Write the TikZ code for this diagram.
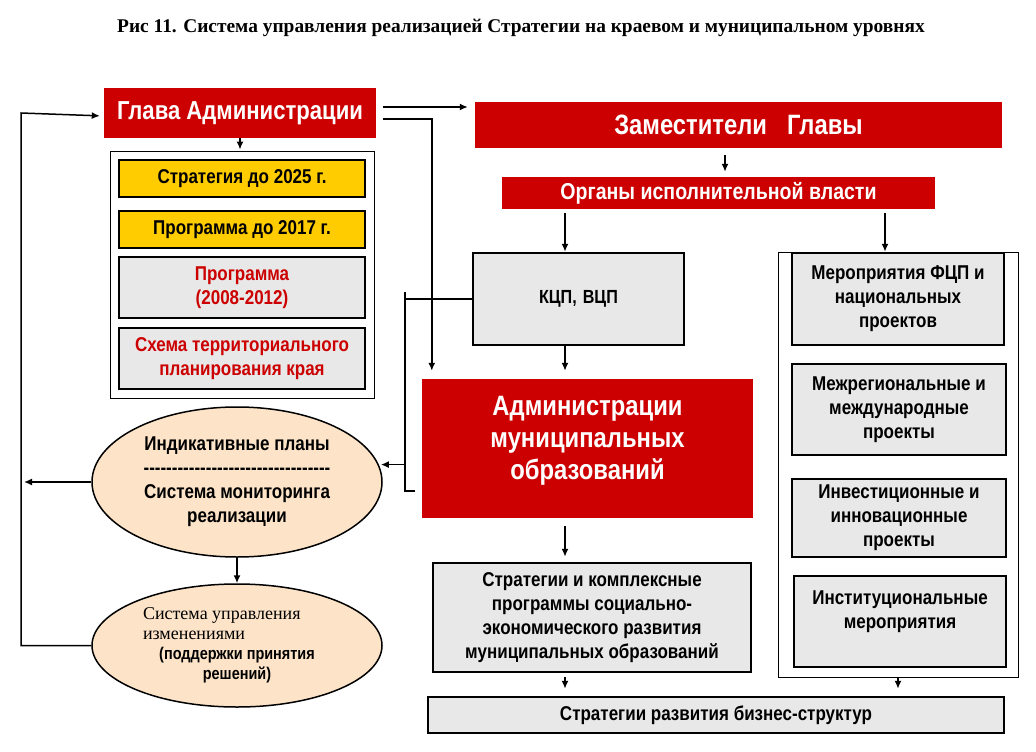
\documentclass[tikz,border=0pt]{standalone}
\usepackage{fontspec}
\setmainfont{Liberation Sans}[FakeStretch=0.85]
\newfontfamily\serifrm{Liberation Serif}
\usetikzlibrary{shapes.geometric,arrows.meta}

\definecolor{glred}{RGB}{204,0,0}
\definecolor{boxgrey}{RGB}{232,232,232}
\definecolor{planyellow}{RGB}{255,204,0}
\definecolor{ellpeach}{RGB}{253,228,200}

\newcommand\hyphenrow[1]{\foreach \k in {1,...,#1}{-\kern0pt}}

\begin{document}
\begin{tikzpicture}[x=1pt, y=-1pt,
  every node/.style={inner sep=0pt},
  redbox/.style={fill=glred, text=white, align=center},
  greybox/.style={draw, line width=2.5pt, fill=boxgrey, align=center,
    font=\fontsize{20}{24}\selectfont\bfseries},
  yellowbox/.style={greybox, fill=planyellow},
  framebox/.style={draw, line width=0.8pt},
  planell/.style={ellipse, draw, line width=1.5pt, fill=ellpeach, align=center},
  conn/.style={line width=1.5pt, -{Latex[length=8pt,width=7pt]}},
  link/.style={line width=1.5pt}
]
\useasboundingbox (0,0) rectangle (1036,752);

\node (title) at (521,28) {\serifrm\bfseries\fontsize{19.4}{22}\selectfont Рис 11. Система управления реализацией Стратегии на краевом и муниципальном уровнях};

\node[redbox, minimum width=272, minimum height=50, font=\fontsize{26}{28}\selectfont\bfseries] (glava) at (240,113) {Глава Администрации};
\node[redbox, minimum width=527, minimum height=46, font=\fontsize{28}{30}\selectfont\bfseries] (zam) at (738.5,125) {Заместители\hspace{20pt}Главы};
\node[redbox, minimum width=433, minimum height=32, font=\fontsize{23}{24}\selectfont\bfseries] (organy) at (718.5,193) {Органы исполнительной власти};

% left column
\node[framebox, minimum width=264, minimum height=247] (lframe) at (242,274.5) {};
\node[yellowbox, minimum width=246, minimum height=37] (s2025) at (242,178.5) {Стратегия до 2025 г.};
\node[yellowbox, minimum width=246, minimum height=37] (p2017) at (242,229.5) {Программа до 2017 г.};
\node[greybox, text=glred, minimum width=246, minimum height=61] (p0812) at (242,287.5) {Программа\\(2008-2012)};
\node[greybox, text=glred, minimum width=246, minimum height=61] (shema) at (242,358.5) {Схема территориального\\планирования края};

\node[planell, minimum width=290, minimum height=150, font=\fontsize{20}{24}\selectfont\bfseries] (ell1) at (237,482)
  {Индикативные планы\\\hyphenrow{33}\\Система мониторинга\\реализации};
\node[planell, minimum width=290, minimum height=123, font=\fontsize{17}{20}\selectfont\bfseries] (ell2) at (237,645.5)
  {\makebox[188pt][l]{\serifrm\mdseries\fontsize{18}{20}\selectfont Система управления}\\
   \makebox[188pt][l]{\serifrm\mdseries\fontsize{18}{20}\selectfont изменениями}\\
   (поддержки принятия\\решений)};

% middle column
\node[greybox, minimum width=211, minimum height=92, font=\fontsize{19}{24}\selectfont\bfseries] (kcp) at (578.5,299) {КЦП,\hspace{6pt}ВЦП};
\node[redbox, minimum width=331, minimum height=139, text depth=22pt, font=\fontsize{28}{32}\selectfont\bfseries] (adm) at (587.5,448.5) {Администрации\\муниципальных\\образований};
\node[greybox, minimum width=318, minimum height=109] (strat) at (592,617.5) {Стратегии и комплексные\\программы социально-\\экономического развития\\муниципальных образований};
\node[greybox, minimum width=576, minimum height=36] (biz) at (716,715) {Стратегии развития бизнес-структур};

% right column
\node[framebox, minimum width=240, minimum height=425] (rframe) at (898,464.5) {};
\node[greybox, minimum width=212, minimum height=92] (meropr) at (898,299) {Мероприятия ФЦП и\\национальных\\проектов};
\node[greybox, minimum width=214, minimum height=91] (mezhreg) at (899,409.5) {Межрегиональные и\\международные\\проекты};
\node[greybox, minimum width=214, minimum height=78] (invest) at (899,518) {Инвестиционные и\\инновационные\\проекты};
\node[greybox, minimum width=212, minimum height=91] (instit) at (900,621.5) {Институциональные\\мероприятия\\~};

\coordinate (colA) at (565,0);
\coordinate (colB) at (885,0);
\coordinate (loopx) at (21,0);
\coordinate (brk) at (405,292);
\coordinate (brkend) at (405,491);

\draw[conn, shorten <=7pt, shorten >=7pt] ([yshift=6pt]glava.east) -- ([yshift=6pt]glava.east -| zam.west);
\draw[conn, shorten <=7pt, shorten >=8pt] ([yshift=-6pt]glava.east) -| ([xshift=10pt]adm.north west);
\draw[conn, shorten >=1pt] (glava.south) -- (glava.south |- lframe.north);
\draw[conn, shorten <=7pt, shorten >=5pt] ([xshift=-13.5pt]zam.south) -- ([xshift=-13.5pt]zam.south |- organy.north);
\draw[conn, shorten <=4pt] (colA |- organy.south) -- (colA |- kcp.north);
\draw[conn, shorten <=4pt] (colB |- organy.south) -- (colB |- meropr.north);
\draw[conn, shorten >=8pt] (colA |- kcp.south) -- (colA |- adm.north);
\draw[conn, shorten <=8pt, shorten >=5pt] (colA |- adm.south) -- (colA |- strat.north);
\draw[conn, shorten <=4pt, shorten >=7pt] (colA |- strat.south) -- (colA |- biz.north);
\draw[conn, shorten >=7pt] (rframe.south) -- (rframe.south |- biz.north);

\draw[link] (kcp.west) -- (kcp.west -| brk);
\draw[link] (brk) -- (brkend) -- ++(10,0);
\draw[conn, shorten >=2pt] (brk |- ell1.7) -- (ell1.7);

\draw[conn, shorten >=3pt] (ell1.west) -- (loopx |- ell1.west);
\draw[conn, shorten >=4pt] (ell2.west) -- (loopx |- ell2.west) -- (loopx |- glava.west) -- ([yshift=-3pt]glava.west);
\draw[conn] (ell1.south) -- (ell2.north);
\end{tikzpicture}
\end{document}
